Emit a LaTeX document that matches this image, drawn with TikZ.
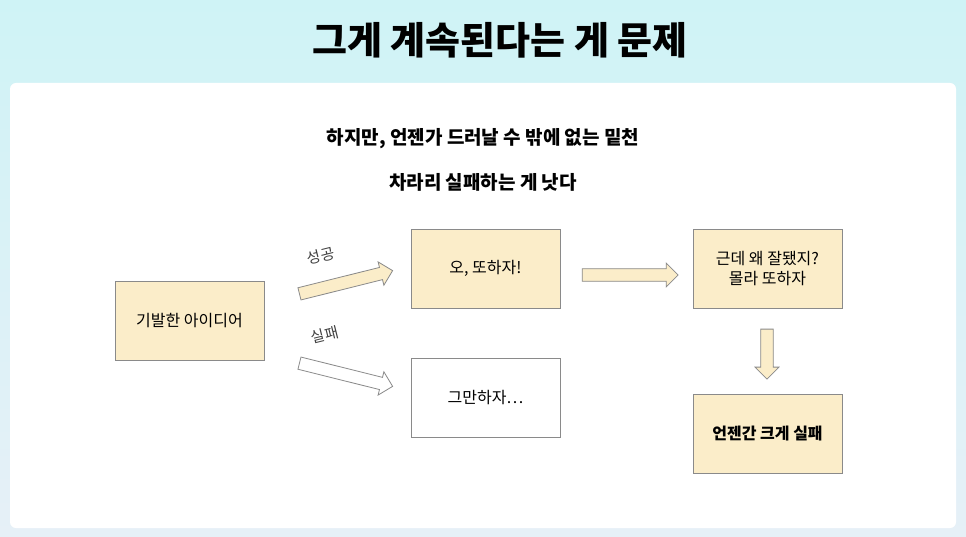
\documentclass[tikz,border=0pt]{standalone}
\usepackage{fontspec}
\setmainfont{Noto Sans CJK KR}
\usetikzlibrary{shapes.arrows,calc}
\definecolor{boxfill}{HTML}{FBEDC9}
\definecolor{boxline}{HTML}{8A8A8A}
\definecolor{bgtop}{HTML}{CFF3F6}
\definecolor{bgbot}{HTML}{E6F0F7}
\tikzset{
    stepbox/.style={draw=boxline, line width=0.9pt, fill=boxfill, minimum width=149pt, minimum height=79pt, align=center, font=\fontsize{16}{20}\selectfont, inner sep=2pt},
    blankbox/.style={stepbox, fill=white},
    fatarrow/.style={single arrow, draw=boxline, line width=0.8pt, fill=boxfill, minimum height=96pt, minimum width=24pt, single arrow head extend=4pt, single arrow tip angle=90, inner sep=4pt},
    lbl/.style={font=\fontsize{15}{17}\selectfont, text=black!75}
}
\begin{document}
\begin{tikzpicture}[x=1pt, y=-1pt]
    \useasboundingbox (0,0) rectangle (966,537);
    % -- sfondo e cartoncino --
    \shade[top color=bgtop, bottom color=bgbot] (0,0) rectangle (966,537);
    \fill[white, rounded corners=6pt] (10,83) rectangle (956,528);

    % -- titoli --
    \node[font=\bfseries\fontsize{38}{42}\selectfont] (title) at (500,40) {그게 계속된다는 게 문제};
    \node[font=\bfseries\fontsize{19}{22}\selectfont] (sub1) at (483,139) {하지만, 언젠가 드러날 수 밖에 없는 밑천};
    \node[font=\bfseries\fontsize{19}{22}\selectfont] (sub2) at (483,182) {차라리 실패하는 게 낫다};

    % -- riquadri --
    \node[stepbox] (idea) at (189.5,321) {기발한 아이디어};
    \node[stepbox] (again) at (485.5,268.5) {오, 또하자!};
    \node[blankbox] (stop) at (485.5,398) {그만하자…};
    \node[stepbox] (why) at (767.5,268.5) {근데 왜 잘됐지?\\몰라 또하자};
    \node[stepbox, font=\bfseries\fontsize{16}{20}\selectfont] (fail) at (767.5,434) {언젠간 크게 실패};

    % -- frecce --
    \node[fatarrow, rotate=14] (okarrow) at (343,283) {};
    \node[fatarrow, fill=white, rotate=-14] (noarrow) at (343,374) {};
    \node[fatarrow] (nextarrow) at (627,275) {};
    \node[fatarrow, rotate=-90, minimum height=50pt] (downarrow) at (767,351) {};

    \node[lbl, rotate=14] (oklbl) at (321,256) {성공};
    \node[lbl, rotate=14] (nolbl) at (325,335) {실패};
\end{tikzpicture}
\end{document}
